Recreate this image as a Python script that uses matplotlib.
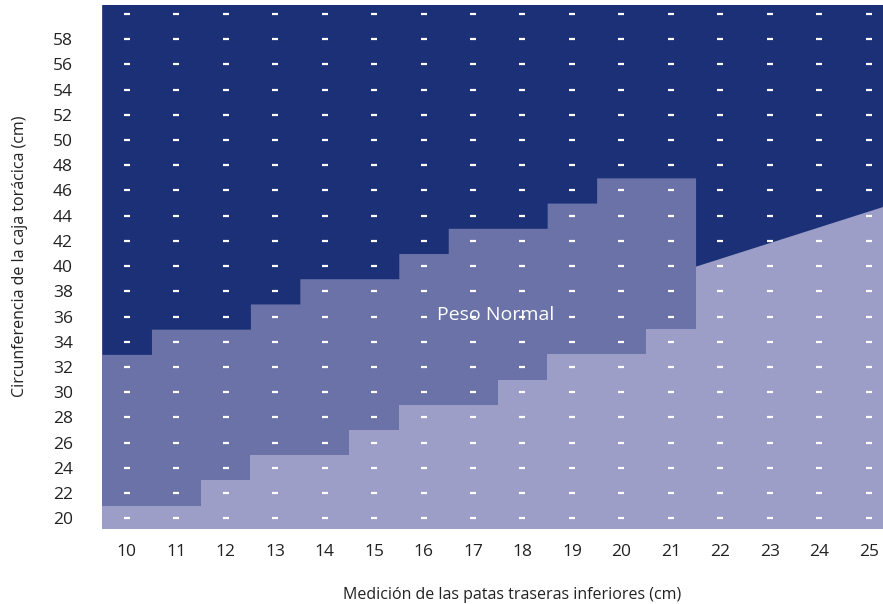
import numpy as np
import matplotlib.pyplot as plt

# leg measurement columns (cm)
cols = np.arange(10, 26)
# chest rows (cm), every 2 cm
rows = np.arange(20, 62, 2)
ytick_vals = np.arange(20, 60, 2)

# stepped zone boundaries for columns 10..21
step_cols = np.arange(10, 22)
light_top = [20, 20, 22, 24, 24, 26, 28, 28, 30, 32, 32, 34]   # highest row still light
dark_from = [34, 36, 36, 38, 40, 40, 42, 44, 44, 46, 48, 48]   # lowest row already dark

# sloped boundary for columns 22..25
slope_x = [21.5, 25.5]
slope_y = [40, 45]

label_txt = "Peso Normal"
label_pos = (17.45, 36.1)

c_dark = "#1b3077"
c_mid = "#6b72a8"
c_light = "#9c9ec8"

plt.rcParams['font.family'] = ['Open Sans', 'DejaVu Sans']

fig = plt.figure(figsize=(8.83, 6.04), dpi=100)
ax = fig.add_axes([102/883, (604-529)/604, 781/883, 524/604])
ax.set_facecolor(c_light)

ytop = 60.71
ybot = 19.15
xl = (9.5, 25.29)

# step outlines: each column gives two x points (its left and right edges)
step_x = np.column_stack([step_cols - 0.5, step_cols + 0.5]).ravel()
mid_low = np.repeat(np.array(light_top) + 1, 2)
dark_low = np.repeat(np.array(dark_from) - 1, 2)

# medium band (everything above light in stepped columns), then dark on top of it
ax.fill_between(step_x, mid_low, ytop + 1, color=c_mid, linewidth=0)
dx = np.concatenate([step_x, slope_x])
dy = np.concatenate([dark_low, slope_y])
ax.fill_between(dx, dy, ytop + 1, color=c_dark, linewidth=0)

# white dashes at every cell
gx, gy = np.meshgrid(cols, rows)
ax.scatter(gx.ravel(), gy.ravel(), marker='_', s=14, linewidths=1.6, color='white', zorder=3)

ax.text(label_pos[0], label_pos[1], label_txt, color='white', fontsize=14,
        ha='center', va='center', zorder=4)

ax.set_xlim(*xl)
ax.set_ylim(ybot, ytop)
ax.set_xticks(cols)
ax.set_yticks(ytick_vals)
ax.tick_params(length=0, labelsize=12.5, colors='#222222')
ax.tick_params(axis='y', pad=21)
ax.tick_params(axis='x', pad=11)
for s in ax.spines.values():
    s.set_visible(False)

fig.text(512/883, 1 - 595/604, "Medición de las patas traseras inferiores (cm)",
         ha='center', va='center', fontsize=11.5, color='#222222')
fig.text(20/883, 1 - 256/604, "Circunferencia de la caja torácica (cm)",
         ha='center', va='center', rotation=90, fontsize=11.5, color='#222222')

fig.savefig("out.png", dpi=100)
